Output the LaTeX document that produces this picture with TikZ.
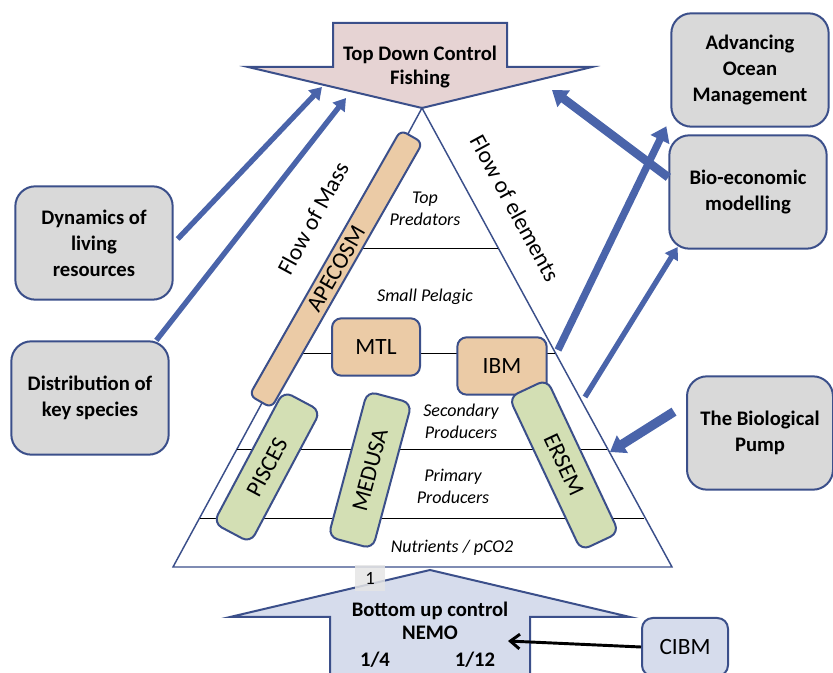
\documentclass[tikz,border=0pt]{standalone}
\usepackage{fontspec}
\setmainfont{Carlito}
\usetikzlibrary{arrows.meta}
\definecolor{edgeblue}{HTML}{3B4F8A}
\definecolor{fishpink}{HTML}{E6D3D3}
\definecolor{modeltan}{HTML}{EBCBA6}
\definecolor{modelgreen}{HTML}{D3DFB4}
\definecolor{boxgray}{HTML}{D9D9D9}
\definecolor{nemoblue}{HTML}{D6DCEC}
\definecolor{arrowblue}{HTML}{4A64AA}
\begin{document}
\begin{tikzpicture}[x=0.75pt,y=-0.75pt,
        goal/.style={draw=edgeblue,line width=1.5pt,fill=boxgray,rounded corners=15pt,
            minimum width=118pt,minimum height=85pt,align=center,
            font=\fontsize{15.5}{19.5}\selectfont\bfseries},
        model/.style={draw=edgeblue,line width=1.5pt,rounded corners=7pt,inner sep=0pt,
            font=\fontsize{17.5}{20}\selectfont},
        level/.style={align=center,font=\fontsize{13.5}{16.5}\selectfont\itshape},
        flowtext/.style={font=\fontsize{17.5}{20}\selectfont},
        thinlink/.style={draw=arrowblue,line width=4pt,-{Triangle[length=9pt,width=11pt]}},
        thicklink/.style={draw=arrowblue,line width=#1,-{Triangle[length=11pt,width=15pt]}}
    ]
        \useasboundingbox (0,0) rectangle (833,673);

        % top down and bottom up arrows
        \draw[draw=edgeblue,line width=1.5pt,fill=fishpink] (333,23) -- (507,23) -- (507,67) -- (592,67)
            -- (422,108) -- (248,67) -- (333,67) -- cycle;
        \node[align=center,font=\fontsize{15.5}{18}\selectfont\bfseries] (fishing) at (420,67) {Top Down Control\\Fishing};
        \draw[draw=edgeblue,line width=1.5pt,fill=nemoblue] (430,570) -- (630,617) -- (530,617) -- (530,690)
            -- (330,690) -- (330,617) -- (230,617) -- cycle;
        \node[align=center,font=\fontsize{15.5}{17.5}\selectfont\bfseries] (nemo) at (430,621) {Bottom up control\\NEMO};
        \node[font=\fontsize{15.5}{18}\selectfont\bfseries] (quarter) at (375,660) {1/4};
        \node[font=\fontsize{15.5}{18}\selectfont\bfseries] (twelfth) at (475,660) {1/12};

        % the pyramid
        \draw[draw=edgeblue,line width=1.1pt] (422,108) -- (672,567) -- (173,567) -- cycle;
        \draw[line width=0.6pt] (346,248) -- (498,248);
        \draw[line width=0.6pt] (289,353) -- (555,353);
        \draw[line width=0.6pt] (237,449) -- (607,449);
        \draw[line width=0.6pt] (200,518) -- (644,518);
        \node[fill=black!10,opacity=0.85,text opacity=1,minimum width=22pt,minimum height=19pt,inner sep=0pt,
            font=\fontsize{14}{14}\selectfont] (one) at (370,578) {1};

        \node[level] (toppred) at (425,209) {Top\\Predators};
        \node[level] (pelagic) at (425,297) {Small Pelagic};
        \node[level] (secondary) at (461,421) {Secondary\\Producers};
        \node[level] (primary) at (453,486) {Primary\\Producers};
        \node[level] (nutrients) at (452,548) {Nutrients / pCO2};
        \node[flowtext,rotate=61.5] (mass) at (313,218) {Flow of Mass};
        \node[flowtext,rotate=-61.5] (elements) at (515,208) {Flow of elements};

        % models
        \node[model,fill=modeltan,rounded corners=5pt,rotate=60.3,minimum width=229pt,minimum height=19pt] (apecosm) at (336,269) {APECOSM};
        \node[model,fill=modeltan,minimum width=66pt,minimum height=43pt] (mtl) at (376,347) {MTL};
        \node[model,fill=modeltan,minimum width=67pt,minimum height=43pt] (ibm) at (502,366) {IBM};
        \node[model,fill=modelgreen,rotate=62,minimum width=112pt,minimum height=31.5pt] (pisces) at (267,467) {PISCES};
        \node[model,fill=modelgreen,rotate=75,minimum width=113pt,minimum height=34.5pt] (medusa) at (370,470) {MEDUSA};
        \node[model,fill=modelgreen,rotate=-64.8,minimum width=127pt,minimum height=31.5pt] (ersem) at (564,465) {ERSEM};

        % outcomes
        \node[goal] (dynamics) at (94,243) {Dynamics of\\living\\resources};
        \node[goal] (distribution) at (90,398) {Distribution of\\key species};
        \node[goal] (advancing) at (750,70) {Advancing\\Ocean\\Management};
        \node[goal] (bioeco) at (748,192) {Bio-economic\\modelling};
        \node[goal,minimum width=109.5pt] (pump) at (760,433) {The Biological\\Pump};
        \node[model,fill=nemoblue,rounded corners=8pt,minimum width=64.5pt,minimum height=43.5pt] (cibm) at (685,647) {CIBM};

        \coordinate (fishleft) at (322,87);
        \coordinate (fishmid) at (346,98);
        \coordinate (fishright) at (552,90);
        \coordinate (elemout) at (558,350);
        \coordinate (edgeout) at (585,397);
        \coordinate (edgein) at (610,452);
        \coordinate (nemoin) at (508,641);

        \draw[thinlink] ([xshift=3pt,yshift=3pt]dynamics.east) -- (fishleft);
        \draw[thinlink] ([xshift=-10pt]distribution.north east) -- (fishmid);
        \draw[thicklink=5.5pt] (elemout) -- ([xshift=-3pt,yshift=1pt]advancing.south west);
        \draw[thicklink=6.5pt] ([yshift=11pt]bioeco.west) -- (fishright);
        \draw[thinlink] (edgeout) -- ([xshift=7pt,yshift=2pt]bioeco.south west);
        \draw[thicklink=7pt] ([xshift=-9pt,yshift=16pt]pump.west) -- (edgein);
        \draw[line width=2.2pt,-{Straight Barb[length=7pt,width=11pt]}] (cibm.west) -- (nemoin);
    \end{tikzpicture}
\end{document}
